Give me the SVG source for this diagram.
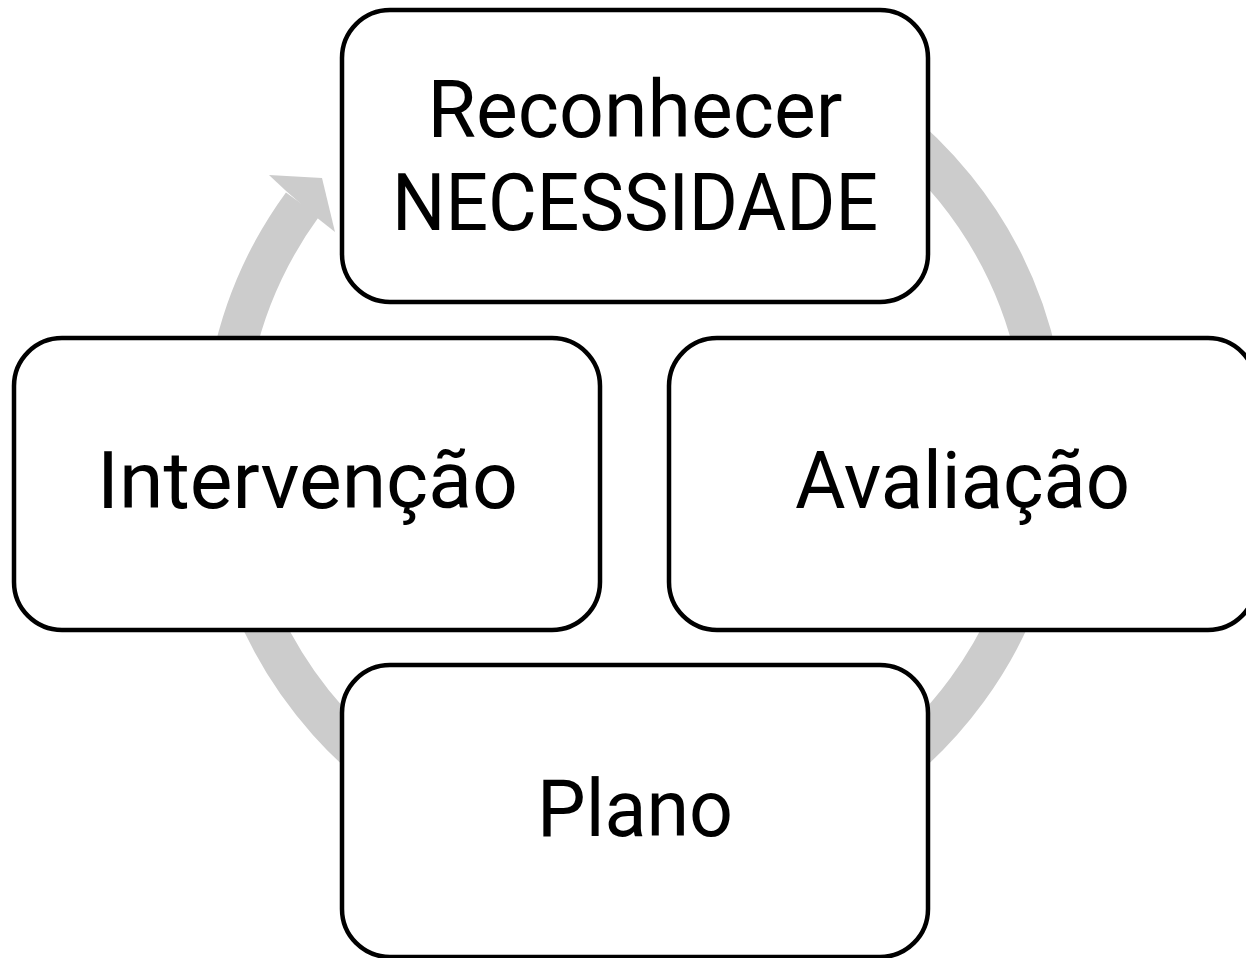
<svg xmlns="http://www.w3.org/2000/svg" width="1246" height="958" viewBox="0 0 1246 958">
  <style>
    .box { fill: #ffffff; stroke: #000000; stroke-width: 4.5; }
    .lbl { font-family: Roboto, "Open Sans", sans-serif; font-size: 79px; fill: #000000; text-anchor: middle; }
    .ring { fill: none; stroke: #cccccc; stroke-width: 41; }
    .head { fill: #cccccc; stroke: none; }
  </style>
  <rect x="0" y="0" width="1246" height="958" fill="#ffffff"/>
  <g id="connectors">
    <path class="ring" d="M 635 35.5 A 411.5 411.5 0 1 1 302.5 204.5"/>
    <polygon class="head" points="269,175 322,178 335,232 316,217 285,190"/>
  </g>
  <g id="node-reconhecer">
    <rect class="box" x="342" y="10" width="586" height="292" rx="48" ry="48"/>
    <text class="lbl"><tspan x="635" y="137" textLength="415" lengthAdjust="spacingAndGlyphs">Reconhecer</tspan><tspan x="635" y="230" textLength="486" lengthAdjust="spacingAndGlyphs">NECESSIDADE</tspan></text>
  </g>
  <g id="node-avaliacao">
    <rect class="box" x="669" y="338" width="587" height="292" rx="48" ry="48"/>
    <text class="lbl" x="962.5" y="508" textLength="335" lengthAdjust="spacingAndGlyphs">Avaliação</text>
  </g>
  <g id="node-plano">
    <rect class="box" x="342" y="665" width="586" height="292" rx="48" ry="48"/>
    <text class="lbl" x="635" y="836" textLength="196" lengthAdjust="spacingAndGlyphs">Plano</text>
  </g>
  <g id="node-intervencao">
    <rect class="box" x="14" y="338" width="586" height="292" rx="48" ry="48"/>
    <text class="lbl" x="307.5" y="508" textLength="421" lengthAdjust="spacingAndGlyphs">Intervenção</text>
  </g>
</svg>
